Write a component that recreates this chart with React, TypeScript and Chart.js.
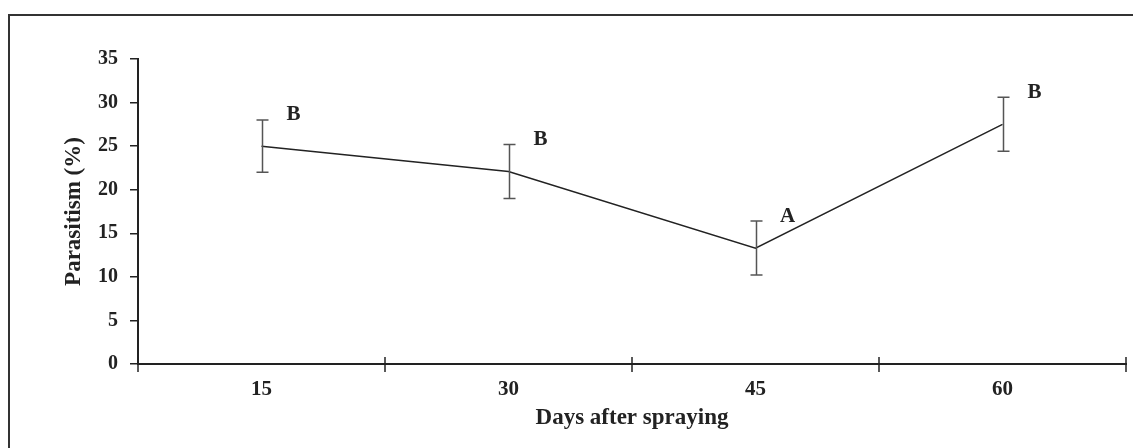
import React, { useEffect, useRef } from 'react';
import { Chart, registerables } from 'chart.js';

Chart.register(...registerables);

// ---- data ----
const days = ['15', '30', '45', '60'];
const parasitism = [25.0, 22.1, 13.3, 27.5];
const stdError = [3.0, 3.1, 3.1, 3.1];
const groupLetters = ['B', 'B', 'A', 'B'];
const yMin = 0;
const yMax = 35;
const yStep = 5;

const FONT = '"Liberation Serif", "Times New Roman", serif';
const INK = '#222';

const framePlugin = {
  id: 'frame',
  beforeDraw(chart: any) {
    const ctx = chart.ctx;
    ctx.save();
    ctx.fillStyle = '#ffffff';
    ctx.fillRect(0, 0, chart.width, chart.height);
    ctx.strokeStyle = '#333';
    ctx.lineWidth = 2;
    ctx.strokeRect(9, 15, chart.width + 40, chart.height + 40);
    ctx.restore();
  },
};

const errorPlugin = {
  id: 'errorBarsLetters',
  afterDatasetsDraw(chart: any) {
    const ctx = chart.ctx;
    const xs = chart.scales.x;
    const ys = chart.scales.y;
    ctx.save();
    ctx.strokeStyle = '#555';
    ctx.lineWidth = 1.5;
    parasitism.forEach((m, i) => {
      const x = Math.round(xs.getPixelForValue(i)) + 0.5;
      const yt = ys.getPixelForValue(m + stdError[i]);
      const yb = ys.getPixelForValue(m - stdError[i]);
      ctx.beginPath();
      ctx.moveTo(x, yt);
      ctx.lineTo(x, yb);
      ctx.moveTo(x - 6, yt);
      ctx.lineTo(x + 6, yt);
      ctx.moveTo(x - 6, yb);
      ctx.lineTo(x + 6, yb);
      ctx.stroke();
      ctx.fillStyle = INK;
      ctx.font = `bold 21px ${FONT}`;
      ctx.textAlign = 'center';
      ctx.textBaseline = 'middle';
      ctx.fillText(groupLetters[i], x + 31, yt - 5);
    });
    ctx.restore();
  },
  afterDraw(chart: any) {
    const ctx = chart.ctx;
    const xs = chart.scales.x;
    const y0 = chart.chartArea.bottom;
    const n = days.length;
    ctx.save();
    ctx.strokeStyle = INK;
    ctx.lineWidth = 1.5;
    for (let k = 0; k <= n; k++) {
      const x = Math.round(xs.getPixelForDecimal(k / n));
      ctx.beginPath();
      ctx.moveTo(x, y0 - 7);
      ctx.lineTo(x, y0 + 8);
      ctx.stroke();
    }
    ctx.restore();
  },
};

export default function App() {
  const ref = useRef<HTMLCanvasElement | null>(null);
  useEffect(() => {
    if (!ref.current) return;
    const chart = new Chart(ref.current, {
      type: 'line',
      data: {
        labels: days,
        datasets: [
          {
            data: parasitism,
            borderColor: INK,
            borderWidth: 1.5,
            pointRadius: 0,
            tension: 0,
            fill: false,
          },
        ],
      },
      options: {
        responsive: false,
        animation: false,
        devicePixelRatio: 1,
        layout: { padding: { left: 60, right: 7, top: 59, bottom: 0 } },
        plugins: {
          legend: { display: false },
          tooltip: { enabled: false },
        },
        scales: {
          x: {
            type: 'category',
            offset: true,
            grid: { display: false, drawTicks: false, offset: true },
            border: { display: true, color: INK, width: 2 },
            ticks: {
              padding: 13,
              color: INK,
              font: { family: FONT, size: 21, weight: 'bold' },
              maxRotation: 0,
            },
            title: {
              display: true,
              text: 'Days after spraying',
              color: INK,
              font: { family: FONT, size: 23, weight: 'bold' },
              padding: { top: 0, bottom: 16 },
            },
            afterFit: (s: any) => {
              s.height = 84;
            },
          },
          y: {
            min: yMin,
            max: yMax,
            grid: {
              display: true,
              drawOnChartArea: false,
              drawTicks: true,
              tickLength: 8,
              color: INK,
              lineWidth: 1.5,
            },
            border: { display: true, color: INK, width: 2 },
            ticks: {
              stepSize: yStep,
              padding: 12,
              color: INK,
              font: { family: FONT, size: 20, weight: 'bold' },
            },
            title: {
              display: true,
              text: 'Parasitism (%)',
              color: INK,
              font: { family: FONT, size: 23, weight: 'bold' },
              padding: { top: 0, bottom: 0 },
            },
            afterFit: (s: any) => {
              s.width = 78;
            },
          },
        },
      },
      plugins: [framePlugin, errorPlugin],
    } as any);
    return () => chart.destroy();
  }, []);
  return (
    <div style={{ position: 'absolute', left: 0, top: 0, width: 1133, height: 448 }}>
      <canvas ref={ref} width={1133} height={448} style={{ display: 'block' }} />
    </div>
  );
}
